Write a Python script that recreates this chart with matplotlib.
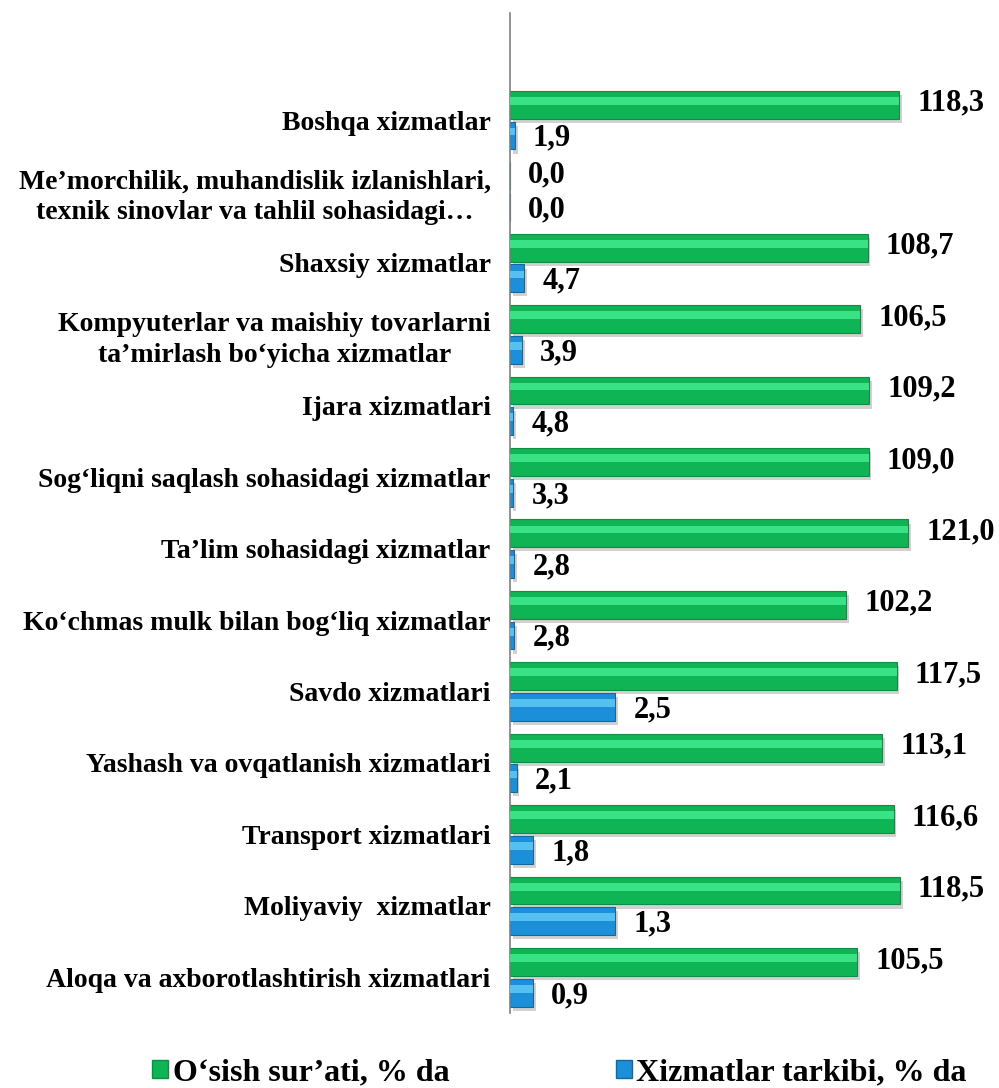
import matplotlib
matplotlib.use("Agg")
import matplotlib.pyplot as plt
import matplotlib.patheffects as pe
from matplotlib.patches import Patch
import numpy as np

# ---- data (bottom to top) ----
categories = [
    "Aloqa va axborotlashtirish xizmatlari",
    "Moliyaviy  xizmatlar",
    "Transport xizmatlari",
    "Yashash va ovqatlanish xizmatlari",
    "Savdo xizmatlari",
    "Ko\u2018chmas mulk bilan bog\u2018liq xizmatlar",
    "Ta\u2019lim sohasidagi xizmatlar",
    "Sog\u2018liqni saqlash sohasidagi xizmatlar",
    "Ijara xizmatlari",
    "Kompyuterlar va maishiy tovarlarni\nta\u2019mirlash bo\u2018yicha xizmatlar",
    "Shaxsiy xizmatlar",
    "Me\u2019morchilik, muhandislik izlanishlari,\ntexnik sinovlar va tahlil sohasidagi\u2026",
    "Boshqa xizmatlar",
]
growth = [105.5, 118.5, 116.6, 113.1, 117.5, 102.2, 121.0, 109.0, 109.2, 106.5, 108.7, 0.0, 118.3]
# bar lengths of the structure series as drawn in the picture
structure_bars = [7.0, 32.0, 7.0, 2.0, 32.0, 1.3, 1.3, 1.0, 1.0, 3.6, 4.3, 0.0, 1.5]
# printed labels of the structure series
structure_labels = [0.9, 1.3, 1.8, 2.1, 2.5, 2.8, 2.8, 3.3, 4.8, 3.9, 4.7, 0.0, 1.9]
legend_labels = ["O\u2018sish sur\u2019ati, % da", "Xizmatlar tarkibi, % da"]

W, H = 999, 1088
fig = plt.figure(figsize=(W / 100, H / 100), dpi=100)
ax_left, ax_right = 510, 999
ax_top, ax_bot = 13, 1013
ax = fig.add_axes([ax_left / W, 1 - ax_bot / H, (ax_right - ax_left) / W, (ax_bot - ax_top) / H])

font = ["Liberation Serif", "DejaVu Serif"]
y = np.arange(len(categories))
h = 0.39
off = 0.215

green_c, green_hi = "#0FB455", "#45EE93"
blue_c, blue_hi = "#1B90D8", "#66CEF7"
shadow = [pe.SimplePatchShadow(offset=(2, -3), shadow_rgbFace="#9a9a9a", alpha=0.45), pe.Normal()]

gb = ax.barh(y + off, growth, height=h, color=green_c, edgecolor="#0C8E43", linewidth=0.8, zorder=2)
for p in gb:
    p.set_path_effects(shadow)
ax.barh(y + off + h * 0.14, growth, height=h * 0.28, color=green_hi, linewidth=0, zorder=3, alpha=0.8)

bb = ax.barh(y - off, structure_bars, height=h, color=blue_c, edgecolor="#15679E", linewidth=0.8, zorder=2)
for p in bb:
    p.set_path_effects(shadow)
ax.barh(y - off + h * 0.14, structure_bars, height=h * 0.28, color=blue_hi, linewidth=0, zorder=3, alpha=0.8)

fmt = lambda v: f"{v:.1f}".replace(".", ",")
for yi, v in zip(y, growth):
    ax.annotate(fmt(v), (v, yi + off + 0.02), xytext=(13, 0), textcoords="offset points",
                ha="left", va="center", fontsize=22, fontweight="bold", family=font)
for yi, v, lab in zip(y, structure_bars, structure_labels):
    ax.annotate(fmt(lab), (v, yi - off - 0.04), xytext=(13, 0), textcoords="offset points",
                ha="left", va="center", fontsize=22, fontweight="bold", family=font)

ax.set_xlim(0, (ax_right - ax_left) / 3.29)
ax.set_ylim(-0.5, len(categories) + 0.5)
ax.set_yticks(y)
ax.set_yticklabels(categories, fontsize=20, fontweight="bold", family=font, multialignment="center",
                   linespacing=1.3)
ax.tick_params(axis="y", length=0, pad=14)
ax.set_xticks([])
for s in ["top", "right", "bottom"]:
    ax.spines[s].set_visible(False)
ax.spines["left"].set_color("#808080")
ax.spines["left"].set_linewidth(1.2)

handles = [Patch(facecolor=green_c, edgecolor="#0C8E43"), Patch(facecolor=blue_c, edgecolor="#15679E")]
fig.legend(handles, legend_labels, loc="center", bbox_to_anchor=(0.56, 1 - 1073 / H), ncol=2,
           frameon=False, prop={"family": font, "weight": "bold", "size": 23},
           handlelength=0.5, handleheight=0.5, handletextpad=0.15, columnspacing=5.2)

fig.savefig("out.png", dpi=100, facecolor="white")
